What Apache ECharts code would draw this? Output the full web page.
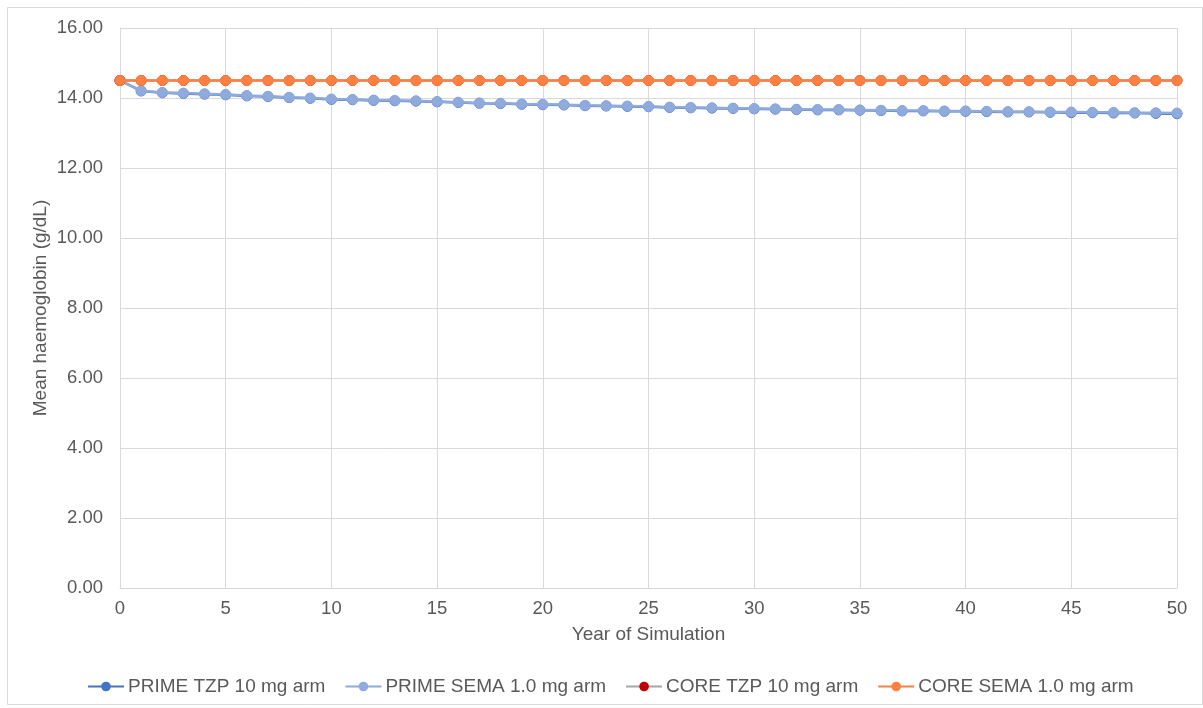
<!DOCTYPE html>
<html>
<head>
<meta charset="utf-8">
<script src="https://cdn.jsdelivr.net/npm/echarts@6/dist/echarts.min.js"></script>
<style>
  html, body { margin: 0; padding: 0; background: #fff; }
  #chart { width: 1203px; height: 708px; }
</style>
</head>
<body>
<div id="chart"></div>
<script>
// Simulation years 0..50
const years = Array.from({ length: 51 }, (_, i) => i);

// Mean haemoglobin (g/dL) per year of simulation
const primeTzp = [
  14.50, 14.20, 14.15, 14.13, 14.11, 14.09, 14.06, 14.04, 14.01, 13.99,
  13.96, 13.95, 13.93, 13.92, 13.91, 13.89, 13.87, 13.85, 13.84, 13.82,
  13.81, 13.80, 13.78, 13.77, 13.76, 13.75, 13.73, 13.72, 13.71, 13.70,
  13.69, 13.68, 13.67, 13.66, 13.66, 13.65, 13.64, 13.63, 13.63, 13.62,
  13.62, 13.61, 13.60, 13.60, 13.59, 13.58, 13.58, 13.57, 13.57, 13.56,
  13.55
];
const primeSema = [
  14.50, 14.21, 14.16, 14.14, 14.12, 14.10, 14.07, 14.05, 14.02, 14.00,
  13.97, 13.96, 13.94, 13.93, 13.92, 13.90, 13.88, 13.86, 13.85, 13.83,
  13.82, 13.81, 13.79, 13.78, 13.77, 13.76, 13.74, 13.73, 13.72, 13.71,
  13.70, 13.69, 13.68, 13.67, 13.67, 13.66, 13.65, 13.64, 13.64, 13.63,
  13.63, 13.62, 13.61, 13.61, 13.60, 13.60, 13.59, 13.59, 13.58, 13.58,
  13.57
];
const coreTzp = [
  14.50, 14.50, 14.50, 14.50, 14.50, 14.50, 14.50, 14.50, 14.50, 14.50,
  14.50, 14.50, 14.50, 14.50, 14.50, 14.50, 14.50, 14.50, 14.50, 14.50,
  14.50, 14.50, 14.50, 14.50, 14.50, 14.50, 14.50, 14.50, 14.50, 14.50,
  14.50, 14.50, 14.50, 14.50, 14.50, 14.50, 14.50, 14.50, 14.50, 14.50,
  14.50, 14.50, 14.50, 14.50, 14.50, 14.50, 14.50, 14.50, 14.50, 14.50,
  14.50
];
const coreSema = [
  14.50, 14.50, 14.50, 14.50, 14.50, 14.50, 14.50, 14.50, 14.50, 14.50,
  14.50, 14.50, 14.50, 14.50, 14.50, 14.50, 14.50, 14.50, 14.50, 14.50,
  14.50, 14.50, 14.50, 14.50, 14.50, 14.50, 14.50, 14.50, 14.50, 14.50,
  14.50, 14.50, 14.50, 14.50, 14.50, 14.50, 14.50, 14.50, 14.50, 14.50,
  14.50, 14.50, 14.50, 14.50, 14.50, 14.50, 14.50, 14.50, 14.50, 14.50,
  14.50
];

const seriesNames = [
  'PRIME TZP 10 mg arm',
  'PRIME SEMA 1.0 mg arm',
  'CORE TZP 10 mg arm',
  'CORE SEMA 1.0 mg arm'
];

const yTicks = { min: 0, max: 16, interval: 2 };
const xTicks = { min: 0, max: 50, interval: 5 };

const pairs = arr => years.map((y, i) => [y, arr[i]]);

const font = 'Liberation Sans, Arial, Helvetica, sans-serif';
const textGrey = '#595959';
const gridGrey = '#D9D9D9';

function lineSeries(name, data, lineColor, markerColor, z) {
  return {
    name: name,
    type: 'line',
    data: pairs(data),
    symbol: 'circle',
    symbolSize: 10,
    z: z,
    lineStyle: { color: lineColor, width: 2.5 },
    itemStyle: { color: markerColor, borderColor: markerColor },
    emphasis: { disabled: true },
    animation: false
  };
}

const chart = echarts.init(document.getElementById('chart'), null, { renderer: 'canvas' });
chart.setOption({
  backgroundColor: '#ffffff',
  animation: false,
  textStyle: { fontFamily: font },
  graphic: [{
    type: 'rect',
    shape: { x: 7.5, y: 7.5, width: 1195, height: 697 },
    style: { fill: 'none', stroke: gridGrey, lineWidth: 1 },
    silent: true,
    z: -10
  }],
  grid: { left: 120, right: 26, top: 28, bottom: 120, containLabel: false },
  legend: {
    top: 672,
    left: 82,
    itemGap: 19,
    itemWidth: 36,
    itemHeight: 12,
    textStyle: { fontFamily: font, fontSize: 19, color: textGrey, padding: [0, 0, 0, -1] },
    data: seriesNames
  },
  xAxis: {
    type: 'value',
    min: xTicks.min,
    max: xTicks.max,
    interval: xTicks.interval,
    name: 'Year of Simulation',
    nameLocation: 'middle',
    nameGap: 37,
    nameMoveOverlap: false,
    nameTextStyle: { fontFamily: font, fontSize: 19, color: textGrey },
    axisLine: { show: true, lineStyle: { color: gridGrey, width: 1 } },
    axisTick: { show: false },
    axisLabel: { fontFamily: font, fontSize: 18.5, color: textGrey, margin: 11 },
    splitLine: { show: true, lineStyle: { color: gridGrey, width: 1 } }
  },
  yAxis: {
    type: 'value',
    min: yTicks.min,
    max: yTicks.max,
    interval: yTicks.interval,
    name: 'Mean haemoglobin (g/dL)',
    nameLocation: 'middle',
    nameGap: 70,
    nameMoveOverlap: false,
    nameRotate: 90,
    nameTextStyle: { fontFamily: font, fontSize: 19, color: textGrey },
    axisLine: { show: true, lineStyle: { color: gridGrey, width: 1 } },
    axisTick: { show: false },
    axisLabel: {
      fontFamily: font, fontSize: 18.5, color: textGrey, margin: 17,
      formatter: v => v.toFixed(2)
    },
    splitLine: { show: true, lineStyle: { color: gridGrey, width: 1 } }
  },
  series: [
    lineSeries(seriesNames[0], primeTzp, '#4472C4', '#4472C4', 2),
    lineSeries(seriesNames[1], primeSema, '#8FAADC', '#8FAADC', 3),
    lineSeries(seriesNames[2], coreTzp, '#A5A5A5', '#C00000', 4),
    lineSeries(seriesNames[3], coreSema, '#FF8040', '#FF8040', 5)
  ]
});
</script>
</body>
</html>
